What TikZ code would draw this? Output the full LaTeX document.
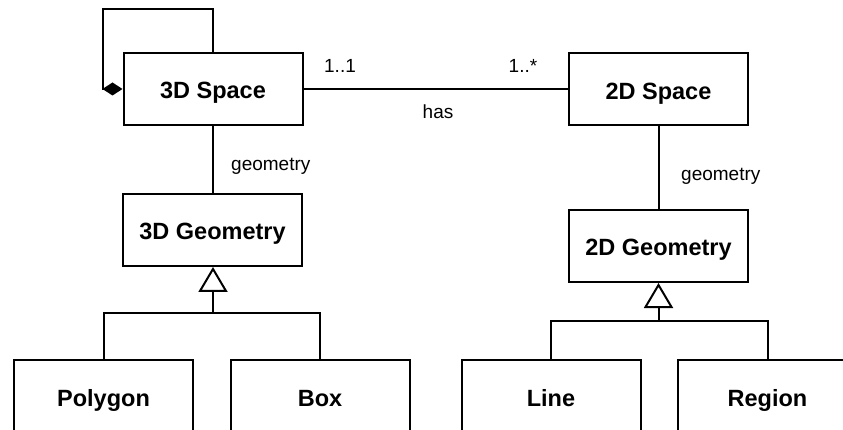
\documentclass[tikz,border=0pt]{standalone}
\usepackage{fontspec}
\setmainfont{Liberation Sans}
\usetikzlibrary{arrows.meta}
\begin{document}
\begin{tikzpicture}[x=1pt,y=-1pt,
  cls/.style={draw, line width=2pt, minimum width=179pt, minimum height=72pt, inner sep=0pt,
    text height=24pt, text depth=4pt,
    font=\fontsize{23.5}{28}\selectfont\bfseries},
  lbl/.style={font=\fontsize{19}{23}\selectfont, inner sep=0pt},
  conn/.style={line width=2pt},
  inherit/.style={conn, -{Triangle[open,length=25pt,width=29pt,line width=2pt]}}]
\clip (0,0) rectangle (843,430);
\fill[white] (0,0) rectangle (843,430);
% classes
\node[cls] (S3) at (213,89) {3D Space};
\node[cls] (S2) at (658.5,89.5) {2D Space};
\node[cls] (G3) at (212.5,230) {3D Geometry};
\node[cls] (G2) at (658.5,246) {2D Geometry};
\node[cls] (poly) at (103.5,396) {Polygon};
\node[cls] (box) at (320,396) {Box};
\node[cls] (line) at (551,396) {Line};
\node[cls] (region) at (767.5,396) {Region};
% self aggregation
\coordinate (la) at (103,9);
\coordinate (lb) at (213,9);
\draw[conn, {Diamond[length=20pt,width=13pt]}-] (S3.west) -| (la) -- (lb) -- (S3.north);
% association
\draw[conn] (S3.east) -- (S3.east -| S2.west);
\node[lbl, anchor=base] (m1) at (340,73) {1..1};
\node[lbl, anchor=base] (m2) at (523,73) {1..*};
\node[lbl, anchor=base] (has) at (438,119) {has};
% geometry links
\draw[conn] (S3.south) -- (S3.south |- G3.north);
\node[lbl, anchor=base west] (g3l) at (231,171) {geometry};
\draw[conn] (S2.south) -- (S2.south |- G2.north);
\node[lbl, anchor=base west] (g2l) at (681,181) {geometry};
% inheritance 3D
\coordinate (j3) at (213,313);
\draw[conn] (poly.north) |- (j3);
\draw[conn] (box.north) |- (j3);
\draw[inherit] (j3) -- (j3 |- G3.south);
% inheritance 2D
\coordinate (j2) at (658.5,321);
\draw[conn] (line.north) |- (j2);
\draw[conn] (region.north) |- (j2);
\draw[inherit] (j2) -- (j2 |- G2.south);
\end{tikzpicture}
\end{document}
